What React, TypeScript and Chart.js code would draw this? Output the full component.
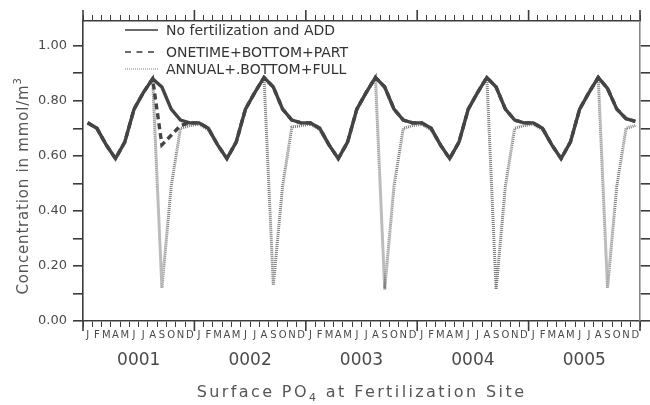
import { useEffect, useRef } from 'react';
import { Chart, registerables } from 'chart.js';

Chart.register(...registerables);

// Axis labels
const MONTH_LETTERS = ['J', 'F', 'M', 'A', 'M', 'J', 'J', 'A', 'S', 'O', 'N', 'D'];
const YEAR_LABELS = ['0001', '0002', '0003', '0004', '0005'];
const Y_TICKS = [0, 0.1, 0.2, 0.3, 0.4, 0.5, 0.6, 0.7, 0.8, 0.9, 1.0];
const MONTH_TICKS = [
  0, 1, 2, 3, 4, 5, 6, 7, 8, 9, 10, 11,
  12, 13, 14, 15, 16, 17, 18, 19, 20, 21, 22, 23,
  24, 25, 26, 27, 28, 29, 30, 31, 32, 33, 34, 35,
  36, 37, 38, 39, 40, 41, 42, 43, 44, 45, 46, 47,
  48, 49, 50, 51, 52, 53, 54, 55, 56, 57, 58, 59, 60,
];
const YEAR_BOUNDARIES = [0, 12, 24, 36, 48, 60];
const YEAR_CENTRES = [6, 18, 30, 42, 54];

// Monthly surface PO4 (mmol/m3), Jan..Dec for years 0001..0005
const noFertilization = [
  0.72, 0.70, 0.64, 0.59, 0.65, 0.77, 0.83, 0.88, 0.85, 0.77, 0.73, 0.72,
  0.72, 0.70, 0.64, 0.59, 0.65, 0.77, 0.83, 0.885, 0.85, 0.77, 0.73, 0.72,
  0.72, 0.70, 0.64, 0.59, 0.65, 0.77, 0.83, 0.885, 0.85, 0.77, 0.73, 0.72,
  0.72, 0.70, 0.64, 0.59, 0.65, 0.77, 0.83, 0.885, 0.85, 0.77, 0.73, 0.72,
  0.72, 0.70, 0.64, 0.59, 0.65, 0.77, 0.83, 0.885, 0.845, 0.77, 0.735, 0.725,
];

const onetimeBottomPart = [
  0.72, 0.70, 0.64, 0.59, 0.65, 0.77, 0.83, 0.88, 0.64, 0.675, 0.71, 0.72,
  0.72, 0.70, 0.64, 0.59, 0.65, 0.77, 0.83, 0.885, 0.85, 0.77, 0.73, 0.72,
  0.72, 0.70, 0.64, 0.59, 0.65, 0.77, 0.83, 0.885, 0.85, 0.77, 0.73, 0.72,
  0.72, 0.70, 0.64, 0.59, 0.65, 0.77, 0.83, 0.885, 0.85, 0.77, 0.73, 0.72,
  0.72, 0.70, 0.64, 0.59, 0.65, 0.77, 0.83, 0.885, 0.845, 0.77, 0.735, 0.725,
];

const annualBottomFull = [
  0.72, 0.70, 0.64, 0.59, 0.65, 0.77, 0.83, 0.88, 0.12, 0.49, 0.70, 0.71,
  0.715, 0.695, 0.64, 0.59, 0.65, 0.77, 0.83, 0.885, 0.13, 0.49, 0.705, 0.71,
  0.715, 0.695, 0.64, 0.59, 0.65, 0.77, 0.83, 0.885, 0.115, 0.49, 0.70, 0.71,
  0.715, 0.695, 0.64, 0.59, 0.65, 0.77, 0.83, 0.885, 0.115, 0.49, 0.70, 0.71,
  0.715, 0.695, 0.64, 0.59, 0.65, 0.77, 0.83, 0.885, 0.12, 0.49, 0.70, 0.71,
];

const SERIES_NAMES = [
  'No fertilization and ADD',
  'ONETIME+BOTTOM+PART',
  'ANNUAL+.BOTTOM+FULL',
];

const X_TITLE_MAIN = 'Surface PO';
const X_TITLE_SUB = '4';
const X_TITLE_REST = ' at Fertilization Site';
const Y_TITLE_MAIN = 'Concentration in mmol/m';
const Y_TITLE_SUP = '3';

const FONT = "'DejaVu Sans', sans-serif";
const AXIS = '#3c3c3c';
const TEXT = '#4a4a4a';

// mid-month placement of monthly values
const toPoints = (values: number[]) => values.map((v, i) => ({ x: i + 0.5, y: v }));

const legendStyles = [
  { color: '#3a3a3a', width: 1.6, dash: [] as number[] },
  { color: '#3a3a3a', width: 1.6, dash: [6, 5.5] },
  { color: '#7a7a7a', width: 1.2, dash: [1, 1] },
];

const decorPlugin = {
  id: 'decor',
  afterDraw(chart: any) {
    const { ctx, chartArea, scales } = chart;
    const xs = scales.x;
    ctx.save();

    // longer year-boundary ticks on top and bottom frame
    ctx.strokeStyle = AXIS;
    ctx.lineWidth = 1.6;
    YEAR_BOUNDARIES.forEach((v) => {
      const px = xs.getPixelForValue(v);
      ctx.beginPath();
      ctx.moveTo(px, chartArea.bottom);
      ctx.lineTo(px, chartArea.bottom + 10);
      ctx.moveTo(px, chartArea.top);
      ctx.lineTo(px, chartArea.top - 11);
      ctx.stroke();
    });

    // legend inside plot, top-left
    const rows = [30, 52, 69];
    SERIES_NAMES.forEach((name, k) => {
      const st = legendStyles[k];
      ctx.beginPath();
      ctx.setLineDash(st.dash);
      ctx.strokeStyle = st.color;
      ctx.lineWidth = st.width;
      ctx.moveTo(125, rows[k]);
      ctx.lineTo(158, rows[k]);
      ctx.stroke();
      ctx.setLineDash([]);
      ctx.fillStyle = '#333';
      ctx.font = `14px ${FONT}`;
      ctx.textAlign = 'left';
      ctx.textBaseline = 'middle';
      (ctx as any).letterSpacing = '0px';
      ctx.fillText(name, 166, rows[k] + 1);
    });

    // x-axis title with subscript
    (ctx as any).letterSpacing = '2.4px';
    ctx.fillStyle = '#555';
    ctx.textBaseline = 'alphabetic';
    ctx.textAlign = 'left';
    const mainFont = `16px ${FONT}`;
    const subFont = `11px ${FONT}`;
    ctx.font = mainFont;
    const w1 = ctx.measureText(X_TITLE_MAIN).width;
    const w3 = ctx.measureText(X_TITLE_REST).width;
    ctx.font = subFont;
    const w2 = ctx.measureText(X_TITLE_SUB).width;
    const total = w1 + w2 + w3;
    const cx = (chartArea.left + chartArea.right) / 2;
    let tx = cx - total / 2;
    const baseY = 397;
    ctx.font = mainFont;
    ctx.fillText(X_TITLE_MAIN, tx, baseY);
    tx += w1;
    ctx.font = subFont;
    ctx.fillText(X_TITLE_SUB, tx, baseY + 4);
    tx += w2;
    ctx.font = mainFont;
    ctx.fillText(X_TITLE_REST, tx, baseY);

    // y-axis title with superscript, rotated
    (ctx as any).letterSpacing = '0.8px';
    const yMain = `15px ${FONT}`;
    const ySup = `10px ${FONT}`;
    ctx.font = yMain;
    const yw1 = ctx.measureText(Y_TITLE_MAIN).width;
    ctx.font = ySup;
    const yw2 = ctx.measureText(Y_TITLE_SUP).width;
    ctx.translate(28, 186);
    ctx.rotate(-Math.PI / 2);
    let ty = -(yw1 + yw2) / 2;
    ctx.font = yMain;
    ctx.fillText(Y_TITLE_MAIN, ty, 0);
    ty += yw1;
    ctx.font = ySup;
    ctx.fillText(Y_TITLE_SUP, ty, -7);

    ctx.restore();
  },
};

export default function App() {
  const canvasRef = useRef<HTMLCanvasElement>(null);

  useEffect(() => {
    if (!canvasRef.current) return;
    const setTicks = (values: number[]) => (scale: any) => {
      scale.ticks = values.map((value) => ({ value }));
    };
    const chart = new Chart(canvasRef.current, {
      type: 'line',
      data: {
        datasets: [
          {
            label: SERIES_NAMES[0],
            data: toPoints(noFertilization),
            borderColor: '#444',
            borderWidth: 3.4,
            pointRadius: 0,
            tension: 0,
            fill: false,
          },
          {
            label: SERIES_NAMES[1],
            data: toPoints(onetimeBottomPart),
            borderColor: '#444',
            borderWidth: 3.4,
            borderDash: [6, 4],
            pointRadius: 0,
            tension: 0,
            fill: false,
          },
          {
            label: SERIES_NAMES[2],
            data: toPoints(annualBottomFull),
            borderColor: '#7a7a7a',
            borderWidth: 3,
            borderDash: [1, 1],
            pointRadius: 0,
            tension: 0,
            fill: false,
          },
        ],
      },
      options: {
        responsive: false,
        animation: false,
        layout: { padding: 0 },
        plugins: {
          legend: { display: false },
          tooltip: { enabled: false },
        },
        scales: {
          x: {
            type: 'linear',
            position: 'bottom',
            min: 0,
            max: 60,
            afterBuildTicks: setTicks(MONTH_TICKS),
            afterFit: (s: any) => {
              s.height = 22;
            },
            ticks: {
              autoSkip: false,
              maxRotation: 0,
              minRotation: 0,
              labelOffset: 4.64,
              padding: 2,
              color: TEXT,
              font: { family: FONT, size: 10 },
              callback: (v: any) => (v < 60 ? MONTH_LETTERS[v % 12] : ''),
            },
            grid: {
              display: true,
              drawOnChartArea: false,
              drawTicks: true,
              tickLength: 6,
              color: AXIS,
              lineWidth: 1,
            },
            border: { display: true, color: AXIS, width: 1.6 },
          },
          xYear: {
            type: 'linear',
            position: 'bottom',
            min: 0,
            max: 60,
            afterBuildTicks: setTicks(YEAR_CENTRES),
            afterFit: (s: any) => {
              s.height = 62;
            },
            ticks: {
              autoSkip: false,
              maxRotation: 0,
              minRotation: 0,
              padding: 7,
              color: TEXT,
              font: { family: FONT, size: 17 },
              callback: (_v: any, i: number) => YEAR_LABELS[i],
            },
            grid: { display: false, drawTicks: false },
            border: { display: false },
          },
          xTop: {
            type: 'linear',
            position: 'top',
            min: 0,
            max: 60,
            afterBuildTicks: setTicks(MONTH_TICKS),
            afterFit: (s: any) => {
              s.height = 21;
            },
            ticks: { display: false },
            grid: {
              display: true,
              drawOnChartArea: false,
              drawTicks: true,
              tickLength: 6,
              color: AXIS,
              lineWidth: 1,
            },
            border: { display: true, color: AXIS, width: 1.6 },
          },
          y: {
            type: 'linear',
            position: 'left',
            min: 0,
            max: 1.09,
            afterBuildTicks: setTicks(Y_TICKS),
            afterFit: (s: any) => {
              s.width = 83;
            },
            ticks: {
              padding: 6,
              color: TEXT,
              font: { family: FONT, size: 13 },
              callback: (v: any) => (Math.round(v * 10) % 2 === 0 ? Number(v).toFixed(2) : ''),
            },
            grid: {
              display: true,
              drawOnChartArea: false,
              drawTicks: true,
              tickLength: 10,
              color: AXIS,
              lineWidth: 1.6,
            },
            border: { display: true, color: AXIS, width: 1.6 },
          },
          y2: {
            type: 'linear',
            position: 'right',
            min: 0,
            max: 1.09,
            afterBuildTicks: setTicks(Y_TICKS),
            afterFit: (s: any) => {
              s.width = 10;
            },
            ticks: { display: false },
            grid: {
              display: true,
              drawOnChartArea: false,
              drawTicks: true,
              tickLength: 10,
              color: AXIS,
              lineWidth: 1.6,
            },
            border: { display: true, color: '#888', width: 1.6 },
          },
        },
      } as any,
      plugins: [decorPlugin],
    });
    return () => chart.destroy();
  }, []);

  return (
    <div style={{ position: 'fixed', left: 0, top: 0, width: 650, height: 405, background: '#fff' }}>
      <canvas ref={canvasRef} width={650} height={405} style={{ display: 'block' }} />
    </div>
  );
}
